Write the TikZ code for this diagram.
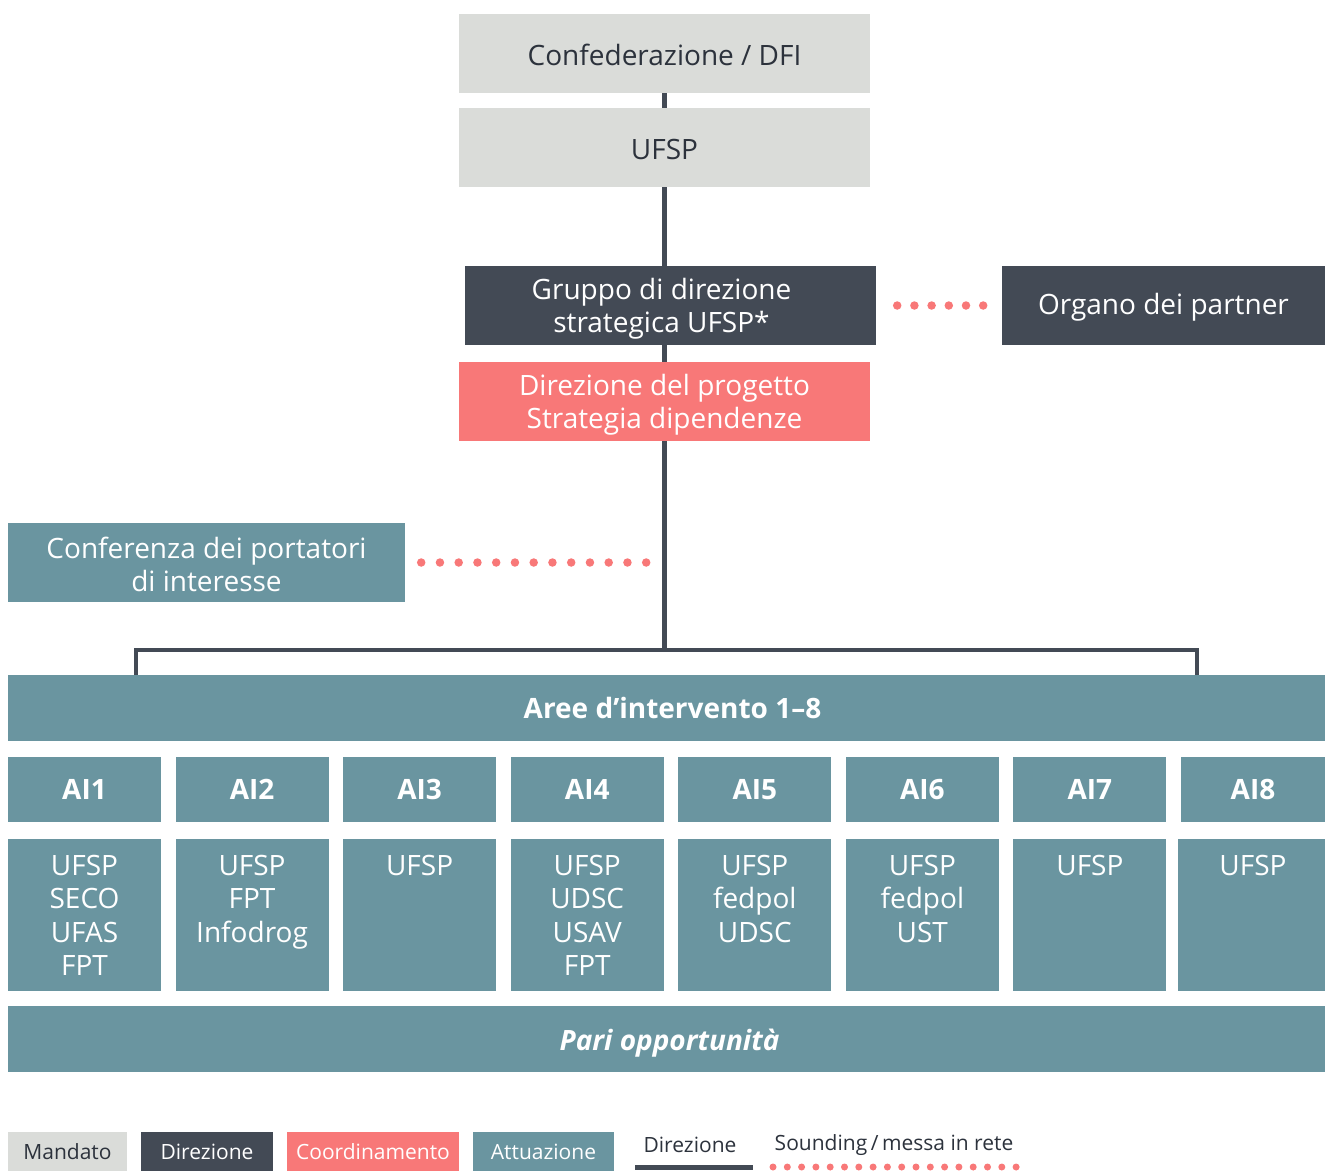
\documentclass[tikz,border=0pt]{standalone}
\usepackage{fontspec}
\setmainfont{Open Sans}
\definecolor{cgray}{HTML}{DADCD9}
\definecolor{cdark}{HTML}{434A55}
\definecolor{csalmon}{HTML}{F87878}
\definecolor{cteal}{HTML}{6A95A0}
\definecolor{ctext}{HTML}{2C323C}
\newcommand\fmain{\fontsize{28}{33.5}\selectfont}
\newcommand\fleg{\fontsize{21}{24}\selectfont}
\begin{document}
\begin{tikzpicture}[x=1pt,y=-1pt,
  box/.style={rectangle, inner sep=0pt, align=center, font=\fmain},
  lbl/.style={inner sep=0pt, align=center, font=\fmain, text=white},
  mandbox/.style={box, fill=cgray, minimum width=411pt, minimum height=79pt},
  dirbox/.style={box, fill=cdark, text=white, minimum height=79pt},
  coordbox/.style={box, fill=csalmon, text=white, minimum height=79pt},
  attbox/.style={box, fill=cteal, text=white},
  aibox/.style={attbox, minimum height=65pt, font=\fmain\bfseries},
  membox/.style={attbox, minimum height=152pt},
  legbox/.style={box, minimum height=39pt, font=\fleg},
  conn/.style={draw=cdark, line width=4.5pt},
  sound/.style={draw=csalmon, line width=8.5pt, line cap=round, dash pattern=on 0pt off #1},
]
\useasboundingbox (0,0) rectangle (1325,1171);

\coordinate (hub) at (664.5,650);
\coordinate (bl) at (136,677);
\coordinate (br) at (1197,677);

\node[mandbox, label={[lbl, text=ctext, yshift=-1.5pt]center:Confederazione / DFI}] (conf) at (664.5,53.5) {};
\node[mandbox, label={[lbl, text=ctext, yshift=-1.5pt]center:UFSP}] (ufsp) at (664.5,147.5) {};
\node[dirbox, minimum width=411pt, label={[lbl, xshift=-9pt, yshift=-3pt]center:Gruppo di direzione\\strategica UFSP*}] (gruppo) at (670.5,305.5) {};
\node[dirbox, minimum width=323pt, label={[lbl, yshift=-1.5pt]center:Organo dei partner}] (organo) at (1163.5,305.5) {};
\node[coordbox, minimum width=411pt, label={[lbl, yshift=-3pt]center:Direzione del progetto\\Strategia dipendenze}] (dirp) at (664.5,401.5) {};
\node[attbox, minimum width=397pt, minimum height=79pt, label={[lbl, yshift=-2pt]center:Conferenza dei portatori\\di interesse}] (confp) at (206.5,562.5) {};

\draw[conn] (conf.south) -- (ufsp.north);
\draw[conn] (ufsp.south) -- (ufsp.south |- gruppo.north);
\draw[conn] (gruppo.south -| dirp.north) -- (dirp.north);
\draw[conn] (dirp.south) -- (hub);
\draw[conn, line join=miter] (bl) |- (hub) -| (br);

\coordinate (cend) at (648,562.5);
\draw[sound=17.2pt] ([xshift=21pt]gruppo.east) -- ([xshift=-17pt]organo.west);
\draw[sound=18.75pt] ([xshift=16pt]confp.east) -- (cend);

\node[attbox, minimum width=1317pt, minimum height=66pt, label={[lbl, font=\fmain\bfseries, xshift=6pt]center:Aree d’intervento 1–8}] (aree) at (666.5,708) {};

\foreach \i/\w/\txt in {1/153/{UFSP\\SECO\\UFAS\\FPT},2/153/{UFSP\\FPT\\Infodrog},3/153/{UFSP},4/153/{UFSP\\UDSC\\USAV\\FPT},5/153/{UFSP\\fedpol\\UDSC},6/153/{UFSP\\fedpol\\UST},7/153/{UFSP},8/144/{UFSP}}{
  \pgfmathsetmacro\xl{8+(\i-1)*167.57}
  \pgfmathsetmacro\xc{\xl+\w/2}
  \node[aibox, minimum width=\w pt] (ai\i) at (\xc,789.5) {AI\i};
  \node[membox, minimum width=\w pt] (m\i) at (\xc,915) {\parbox[c][148pt][t]{150pt}{\centering\fmain\vspace*{14pt}\txt}};
}

\node[attbox, minimum width=1317pt, minimum height=66pt, label={[lbl, font=\fmain\bfseries\itshape, xshift=3pt, yshift=-4pt]center:Pari opportunità}] (pari) at (666.5,1039) {};

% legend
\node[legbox, fill=cgray, text=ctext, minimum width=119pt] (l1) at (67.5,1151.5) {Mandato};
\node[legbox, fill=cdark, text=white, minimum width=132pt] (l2) at (207,1151.5) {Direzione};
\node[legbox, fill=csalmon, text=white, minimum width=172pt] (l3) at (373,1151.5) {Coordinamento};
\node[legbox, fill=cteal, text=white, minimum width=141pt] (l4) at (543.5,1151.5) {Attuazione};
\node[font=\fleg, text=ctext, inner sep=0pt] (l5) at (690,1145) {Direzione};
\coordinate (l5a) at (635,1167.5);
\coordinate (l5b) at (753,1167.5);
\draw[conn] (l5a) -- (l5b);
\node[font=\fleg, text=ctext, inner sep=0pt] (l6) at (894,1145) {Sounding\,/\,messa in rete};
\coordinate (l6a) at (773,1167);
\coordinate (l6b) at (1018,1167);
\draw[sound=14.3pt, line width=7pt] (l6a) -- (l6b);
\end{tikzpicture}
\end{document}
